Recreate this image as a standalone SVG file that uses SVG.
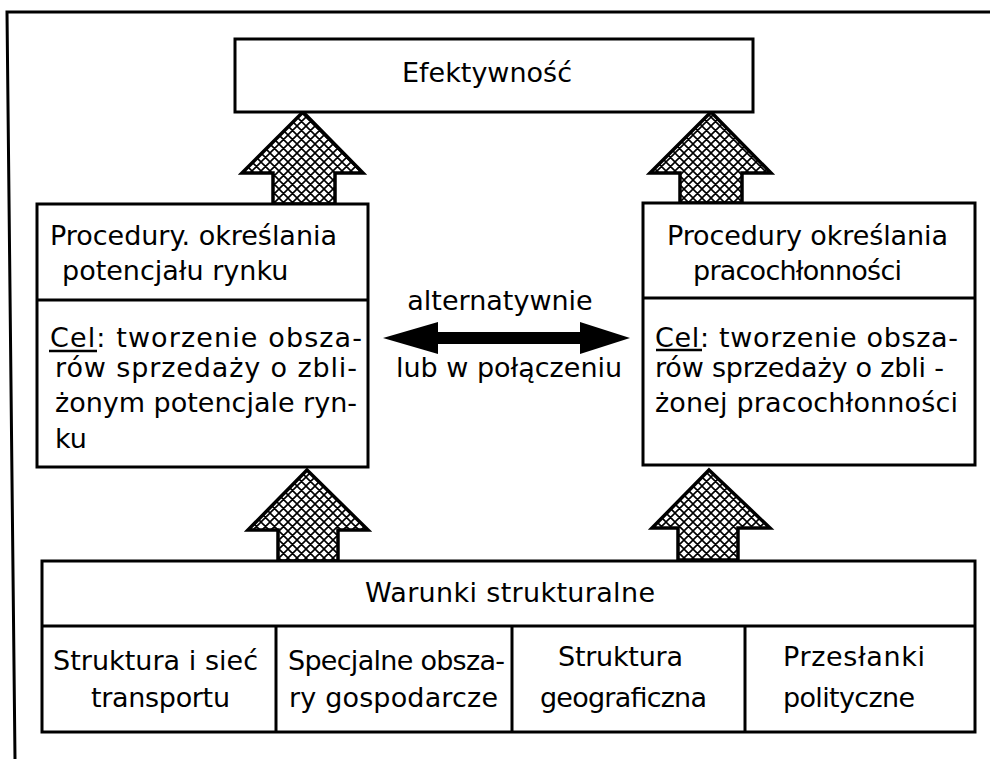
<svg xmlns="http://www.w3.org/2000/svg" width="990" height="759" viewBox="0 0 990 759">
  <style>
    .box { fill: #fff; stroke: #000; stroke-width: 3; }
    .rule { stroke: #000; stroke-width: 3; fill: none; }
    .t { font-family: "DejaVu Sans", "Liberation Sans", sans-serif; font-size: 27px; fill: #000; }
    .c { text-anchor: middle; }
    .hatch { fill: url(#cross); stroke: #000; stroke-width: 3.5; stroke-linejoin: miter; }
  </style>
  <defs>
    <!-- diagonal cross-hatching for the block arrows -->
    <pattern id="cross" patternUnits="userSpaceOnUse" width="9" height="9">
      <rect width="9" height="9" fill="#fff"/>
      <path d="M0,0 L9,9 M9,0 L0,9 M-1,8 L1,10 M8,-1 L10,1 M-1,1 L1,-1 M8,10 L10,8" stroke="#000" stroke-width="1.6"/>
    </pattern>
  </defs>

  <rect width="990" height="759" fill="#fff"/>

  <!-- page frame -->
  <path class="rule" d="M990,12 L7,12 L15,759"/>

  <!-- block arrows and the two-way link -->
  <g id="connectors">
    <polygon class="hatch" points="303,112 363,173 335,173 335,204 273,204 273,173 242,173"/>
    <polygon class="hatch" points="711,112 771,173 742,173 742,203 680,203 680,173 650,173"/>
    <polygon class="hatch" points="307,470 368,530 338,530 338,561 278,561 278,530 248,530"/>
    <polygon class="hatch" points="709,470 770,528 738,528 738,560 678,560 678,528 652,528"/>
    <polygon fill="#000" points="383,338 438,322 438,332 580,332 580,322 630,338 580,354 580,344 438,344 438,354"/>
    <text class="t c" x="500" y="310">alternatywnie</text>
    <text class="t c" x="509" y="377">lub w połączeniu</text>
  </g>

  <g id="efektywnosc">
    <rect class="box" x="235" y="39" width="518" height="73"/>
    <text class="t c" x="487" y="82">Efektywność</text>
  </g>

  <g id="potencjal-rynku">
    <rect class="box" x="37" y="204" width="331" height="263"/>
    <line class="rule" x1="37" y1="300" x2="368" y2="300"/>
    <text class="t" x="50" y="245" textLength="287" lengthAdjust="spacing">Procedury. określania</text>
    <text class="t" x="62" y="280">potencjału rynku</text>
    <text class="t" x="50" y="347" textLength="312" lengthAdjust="spacing">Cel: tworzenie obsza-</text>
    <line x1="49" y1="351" x2="97" y2="351" stroke="#000" stroke-width="2.5"/>
    <text class="t" x="55" y="377" textLength="302" lengthAdjust="spacing">rów sprzedaży o zbli-</text>
    <text class="t" x="55" y="412" textLength="302" lengthAdjust="spacing">żonym potencjale ryn-</text>
    <text class="t" x="55" y="448">ku</text>
  </g>

  <g id="pracochlonnosc">
    <rect class="box" x="643" y="203" width="332" height="262"/>
    <line class="rule" x1="643" y1="298" x2="975" y2="298"/>
    <text class="t" x="667" y="245" textLength="281" lengthAdjust="spacing">Procedury określania</text>
    <text class="t" x="693" y="280" textLength="209" lengthAdjust="spacing">pracochłonności</text>
    <text class="t" x="655" y="347" textLength="303" lengthAdjust="spacing">Cel: tworzenie obsza-</text>
    <line x1="656" y1="350" x2="702" y2="350" stroke="#000" stroke-width="2.5"/>
    <text class="t" x="655" y="377" textLength="289" lengthAdjust="spacing">rów sprzedaży o zbli -</text>
    <text class="t" x="655" y="412" textLength="303" lengthAdjust="spacing">żonej pracochłonności</text>
  </g>

  <g id="warunki">
    <rect class="box" x="42" y="561" width="933" height="171"/>
    <line class="rule" x1="42" y1="626" x2="975" y2="626"/>
    <line class="rule" x1="276" y1="626" x2="276" y2="732"/>
    <line class="rule" x1="512" y1="626" x2="512" y2="732"/>
    <line class="rule" x1="745" y1="626" x2="745" y2="732"/>
    <text class="t c" x="510" y="602" textLength="290" lengthAdjust="spacing">Warunki strukturalne</text>
  </g>

  <g id="transport">
    <text class="t" x="53" y="670" textLength="205" lengthAdjust="spacing">Struktura i sieć</text>
    <text class="t" x="91" y="707" textLength="139" lengthAdjust="spacing">transportu</text>
  </g>
  <g id="obszary">
    <text class="t" x="288" y="670" textLength="217" lengthAdjust="spacing">Specjalne obsza-</text>
    <text class="t" x="289" y="707" textLength="209" lengthAdjust="spacing">ry gospodarcze</text>
  </g>
  <g id="geografia">
    <text class="t" x="558" y="666" textLength="125" lengthAdjust="spacing">Struktura</text>
    <text class="t" x="540" y="707" textLength="167" lengthAdjust="spacing">geograficzna</text>
  </g>
  <g id="polityka">
    <text class="t" x="783" y="666" textLength="142" lengthAdjust="spacing">Przesłanki</text>
    <text class="t" x="783" y="707" textLength="132" lengthAdjust="spacing">polityczne</text>
  </g>
</svg>
